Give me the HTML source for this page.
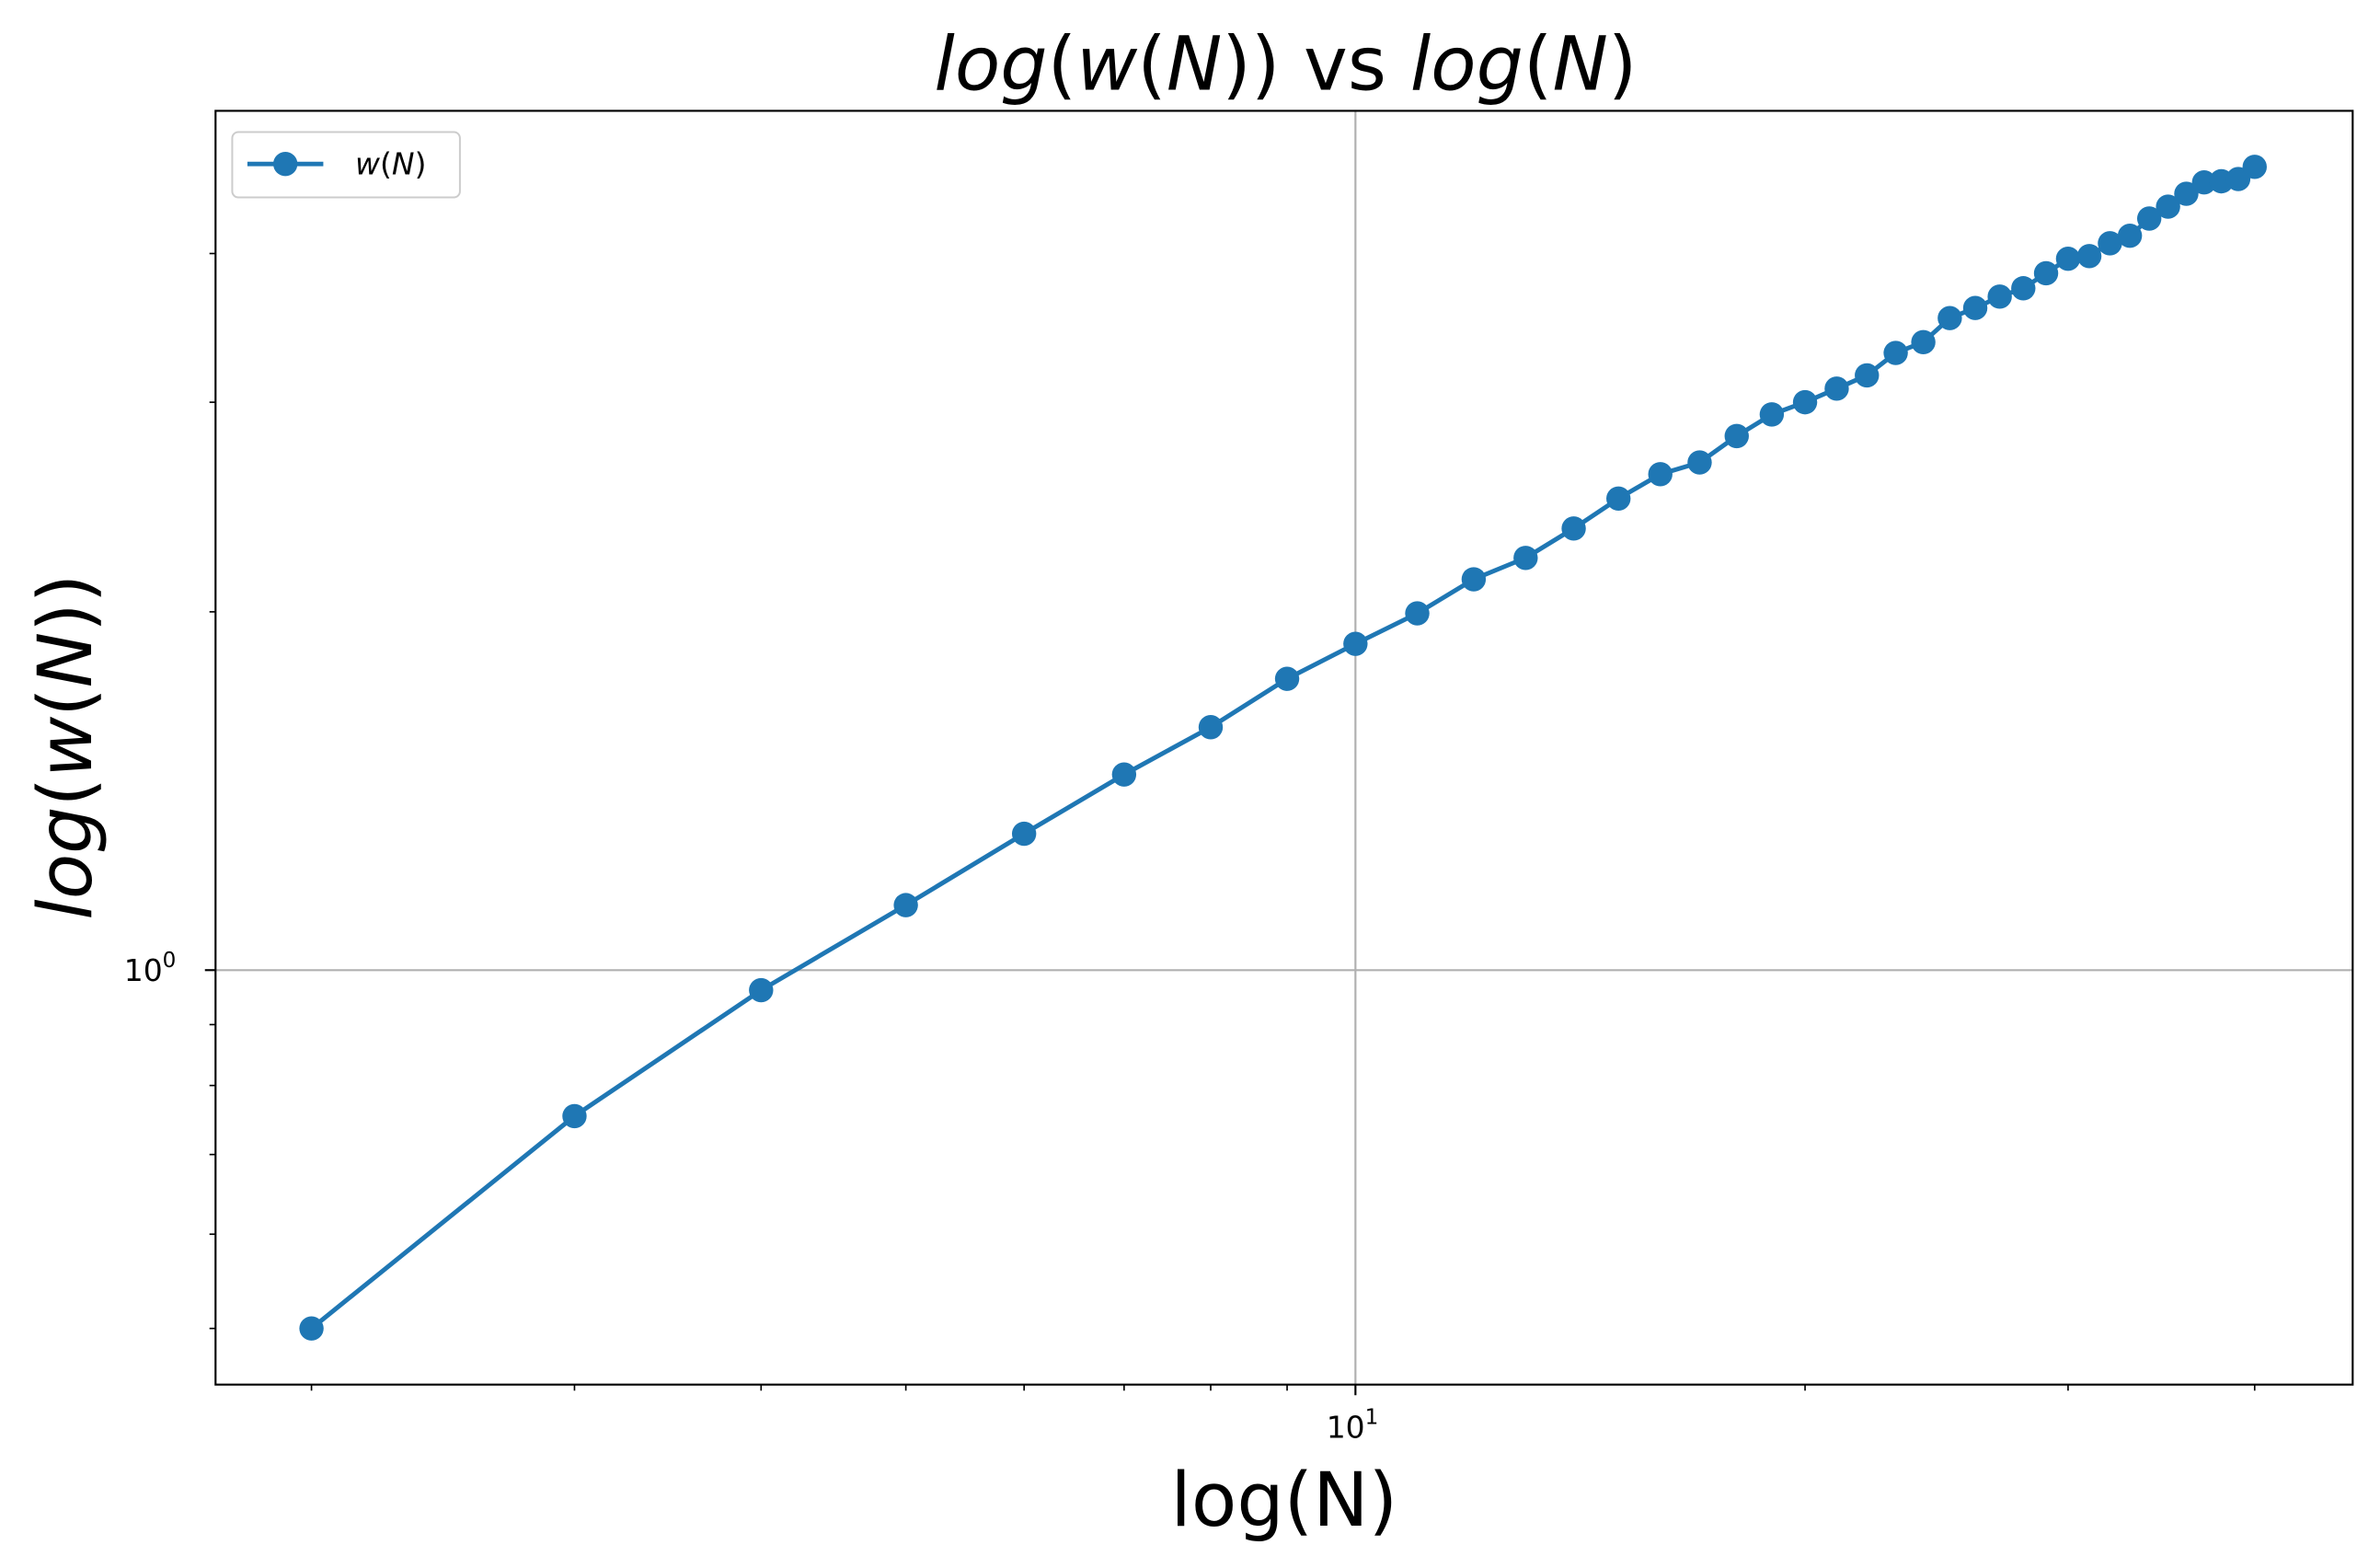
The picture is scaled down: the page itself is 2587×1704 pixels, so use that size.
<!DOCTYPE html>
<html><head><meta charset="utf-8"><style>
html,body{margin:0;padding:0;background:#fff;}
svg{display:block;font-family:"DejaVu Sans","Liberation Sans",sans-serif;}
</style></head><body>
<svg id="chart" width="2587" height="1704" viewBox="0 0 1568 1032.8" preserveAspectRatio="none" xmlns="http://www.w3.org/2000/svg">
<rect width="1568" height="1033" fill="#fff"/>
<text x="847" y="59" font-size="49" text-anchor="middle"><tspan font-style="italic">log</tspan>(<tspan font-style="italic">w</tspan>(<tspan font-style="italic">N</tspan>)) vs <tspan font-style="italic">log</tspan>(<tspan font-style="italic">N</tspan>)</text>
<text x="846" y="1005" font-size="49" text-anchor="middle">log(N)</text>
<text transform="translate(60,492) rotate(-90)" font-size="49" text-anchor="middle"><tspan font-style="italic">log</tspan>(<tspan font-style="italic">w</tspan>(<tspan font-style="italic">N</tspan>))</text>
<g id="grid"></g>
<g id="ticks"></g>
<g id="series"></g>
<rect x="142" y="73" width="1408" height="839" fill="none" stroke="#000" stroke-width="1.3"/>
<g>
<rect x="153" y="87" width="150" height="43" rx="4" fill="#fff" stroke="#ccc" stroke-width="1.2"/>
<line x1="163" y1="108" x2="213" y2="108" stroke="#1f77b4" stroke-width="3"/>
<circle cx="188" cy="108" r="8" fill="#1f77b4"/>
<text x="234" y="115" font-size="20"><tspan font-style="italic">w</tspan>(<tspan font-style="italic">N</tspan>)</text>
</g>
</svg>
<script>
const nValues=[2,3,4,5,6,7,8,9,10,11,12,13,14,15,16,17,18,19,20,21,22,23,24,25,26,27,28,29,30,31,32,33,34,35,36,37,38,39,40];
const wValues=[0.5,0.754,0.962,1.134,1.302,1.46,1.6,1.757,1.88,1.994,2.13,2.22,2.35,2.49,2.61,2.67,2.81,2.93,3.0,3.08,3.16,3.3,3.37,3.53,3.6,3.68,3.74,3.85,3.96,3.98,4.08,4.14,4.28,4.38,4.49,4.59,4.6,4.62,4.73];
const xMajor=[10];
const xMinor=[2,3,4,5,6,7,8,9,20,30,40];
const yMajor=[1];
const yMinor=[0.5,0.6,0.7,0.8,0.9,2,3,4];
const NS="http://www.w3.org/2000/svg";
function xs(v){return 893+(Math.log10(v)-1)*984;}
function ys(v){return 639-Math.log10(v)*784;}
function mk(tag,attrs,parent){const e=document.createElementNS(NS,tag);for(const k in attrs)e.setAttribute(k,attrs[k]);parent.appendChild(e);return e;}
const grid=document.getElementById('grid'),ticks=document.getElementById('ticks'),series=document.getElementById('series');
xMajor.forEach(v=>{const x=xs(v);
 const g=mk('line',{x1:x,x2:x,y1:73,y2:912,stroke:'#b0b0b0','stroke-width':1.3},grid);
 
 
 mk('line',{x1:x,x2:x,y1:912,y2:919,stroke:'#000','stroke-width':1.3},ticks);
 const t=mk('text',{x:x-2,y:947,'font-size':20,'text-anchor':'middle'},ticks);
 
 
 t.innerHTML='10<tspan dy="-9" font-size="14">1</tspan>';});
xMinor.forEach(v=>{const x=xs(v);mk('line',{x1:x,x2:x,y1:912,y2:916,stroke:'#000','stroke-width':1},ticks);});
yMajor.forEach(v=>{const y=ys(v);
 const g=mk('line',{x1:142,x2:1550,y1:y,y2:y,stroke:'#b0b0b0','stroke-width':1.3},grid);
 
 
 mk('line',{x1:135,x2:142,y1:y,y2:y,stroke:'#000','stroke-width':1.3},ticks);
 const t=mk('text',{x:116,y:y+7,'font-size':20,'text-anchor':'end'},ticks);
 
 
 t.innerHTML='10<tspan dy="-9" font-size="14">0</tspan>';});
yMinor.forEach(v=>{const y=ys(v);mk('line',{x1:138,x2:142,y1:y,y2:y,stroke:'#000','stroke-width':1},ticks);});
const pts=nValues.map((n,i)=>xs(n)+','+ys(wValues[i])).join(' ');
const line=mk('polyline',{points:pts,fill:'none',stroke:'#1f77b4','stroke-width':3},series);


nValues.forEach((n,i)=>{const c=mk('circle',{cx:xs(n),cy:ys(wValues[i]),r:8,fill:'#1f77b4'},series);
 
 });
</script>
</body></html>
